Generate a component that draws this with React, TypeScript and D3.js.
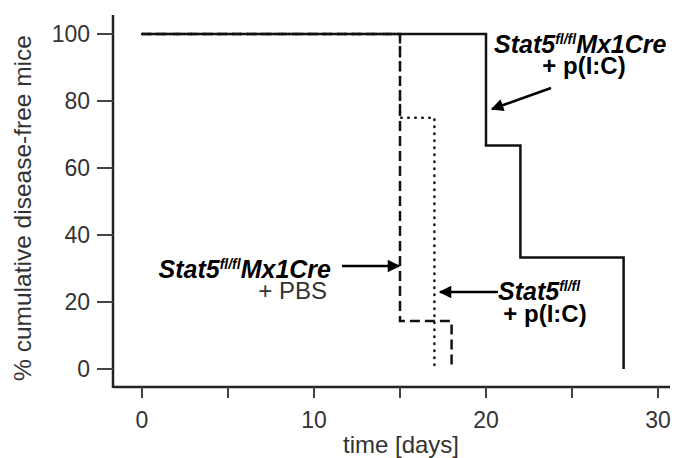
import { useRef, useEffect } from 'react';
import * as d3 from 'd3';

// Kaplan-Meier style survival steps: [day, % disease-free]
const pIcCre = [
  [0, 100],
  [20, 66.7],
  [22, 33.3],
  [28, 0],
];
const pbsCre = [
  [0, 100],
  [15, 14.3],
  [18, 0],
];
const pIcFl = [
  [0, 100],
  [15, 75],
  [17, 0],
];
const xTicks = [0, 5, 10, 15, 20, 25, 30];
const xLabels = [0, 10, 20, 30];
const yTicks = [0, 20, 40, 60, 80, 100];

function App() {
  const svgRef = useRef(null);
  const width = 677;
  const height = 458;

  useEffect(() => {
    const svg = d3.select(svgRef.current);
    svg.selectAll('*').remove();

    const font = 'Liberation Sans, Arial, sans-serif';
    const axisColor = '#222';

    const x = d3.scaleLinear().domain([0, 30]).range([142, 658]);
    const y = d3.scaleLinear().domain([0, 100]).range([369, 34]);

    const axisX0 = 113;
    const axisY0 = 387;

    // axes lines
    svg
      .append('line')
      .attr('x1', axisX0)
      .attr('x2', axisX0)
      .attr('y1', 15)
      .attr('y2', axisY0 + 1)
      .attr('stroke', axisColor)
      .attr('stroke-width', 2.5);
    svg
      .append('line')
      .attr('x1', axisX0)
      .attr('x2', 670)
      .attr('y1', axisY0)
      .attr('y2', axisY0)
      .attr('stroke', axisColor)
      .attr('stroke-width', 2.5);

    // y ticks
    svg
      .append('g')
      .selectAll('line')
      .data(yTicks)
      .join('line')
      .attr('x1', 97)
      .attr('x2', axisX0)
      .attr('y1', (d) => y(d))
      .attr('y2', (d) => y(d))
      .attr('stroke', '#444')
      .attr('stroke-width', 2);
    svg
      .append('g')
      .selectAll('text')
      .data(yTicks)
      .join('text')
      .attr('x', 90)
      .attr('y', (d) => y(d) + 8)
      .attr('text-anchor', 'end')
      .attr('font-family', font)
      .attr('font-size', 23)
      .attr('fill', '#333')
      .text((d) => d);

    // x ticks
    svg
      .append('g')
      .selectAll('line')
      .data(xTicks)
      .join('line')
      .attr('x1', (d) => x(d))
      .attr('x2', (d) => x(d))
      .attr('y1', axisY0)
      .attr('y2', axisY0 + 11)
      .attr('stroke', '#444')
      .attr('stroke-width', 2);
    svg
      .append('g')
      .selectAll('text')
      .data(xLabels)
      .join('text')
      .attr('x', (d) => x(d))
      .attr('y', 428)
      .attr('text-anchor', 'middle')
      .attr('font-family', font)
      .attr('font-size', 23)
      .attr('fill', '#333')
      .text((d) => d);

    // axis titles
    svg
      .append('text')
      .attr('x', 401)
      .attr('y', 453)
      .attr('text-anchor', 'middle')
      .attr('font-family', font)
      .attr('font-size', 24)
      .attr('fill', '#333')
      .text('time [days]');
    svg
      .append('text')
      .attr('transform', 'translate(31,208) rotate(-90)')
      .attr('text-anchor', 'middle')
      .attr('font-family', font)
      .attr('font-size', 24.5)
      .attr('fill', '#333')
      .text('% cumulative disease-free mice');

    // survival curves
    const line = d3
      .line()
      .x((d) => x(d[0]))
      .y((d) => y(d[1]))
      .curve(d3.curveStepAfter);

    svg
      .append('path')
      .attr('d', line(pIcFl))
      .attr('fill', 'none')
      .attr('stroke', '#111')
      .attr('stroke-width', 2.5)
      .attr('stroke-linecap', 'round')
      .attr('stroke-dasharray', '0.5,6.5');
    svg
      .append('path')
      .attr('d', line(pbsCre))
      .attr('fill', 'none')
      .attr('stroke', '#111')
      .attr('stroke-width', 2.5)
      .attr('stroke-dasharray', '10,5');
    svg
      .append('path')
      .attr('d', line(pIcCre))
      .attr('fill', 'none')
      .attr('stroke', '#111')
      .attr('stroke-width', 2.5);

    // arrows
    const defs = svg.append('defs');
    defs
      .append('marker')
      .attr('id', 'arrow')
      .attr('viewBox', '0 0 10 10')
      .attr('refX', 9)
      .attr('refY', 5)
      .attr('markerWidth', 6)
      .attr('markerHeight', 5)
      .attr('markerUnits', 'strokeWidth')
      .attr('orient', 'auto')
      .append('path')
      .attr('d', 'M0,0L10,5L0,10z')
      .attr('fill', '#000');

    const arrows = [
      [551, 88, 492, 109],
      [342, 266, 399, 266],
      [498, 292, 440, 292],
    ];
    svg
      .append('g')
      .selectAll('line')
      .data(arrows)
      .join('line')
      .attr('x1', (d) => d[0])
      .attr('y1', (d) => d[1])
      .attr('x2', (d) => d[2])
      .attr('y2', (d) => d[3])
      .attr('stroke', '#000')
      .attr('stroke-width', 2.5)
      .attr('marker-end', 'url(#arrow)');

    // labels
    const genotype = (g, xx, yy, anchor, withCre) => {
      const t = g
        .append('text')
        .attr('x', xx)
        .attr('y', yy)
        .attr('text-anchor', anchor)
        .attr('font-family', font)
        .attr('font-size', 25)
        .attr('font-weight', 'bold')
        .attr('font-style', 'italic')
        .attr('fill', '#000');
      t.append('tspan').text('Stat5');
      t.append('tspan')
        .attr('font-size', 14)
        .attr('dy', -9)
        .text('fl/fl');
      if (withCre) {
        t.append('tspan').attr('dy', 9).text('Mx1Cre');
      }
    };
    const sub = (g, xx, yy, anchor, txt, bold) => {
      g.append('text')
        .attr('x', xx)
        .attr('y', yy)
        .attr('text-anchor', anchor)
        .attr('font-family', font)
        .attr('font-size', 24)
        .attr('font-weight', bold ? 'bold' : 'normal')
        .attr('fill', bold ? '#000' : '#333')
        .text(txt);
    };

    const labels = svg.append('g');
    genotype(labels, 494, 53, 'start', true);
    sub(labels, 584, 74, 'middle', '+ p(I:C)', true);

    genotype(labels, 331, 278, 'end', true);
    sub(labels, 327, 299, 'end', '+ PBS', false);

    genotype(labels, 498, 300, 'start', false);
    sub(labels, 545, 322, 'middle', '+ p(I:C)', true);
  }, []);

  return (
    <svg
      ref={svgRef}
      width={width}
      height={height}
      style={{ position: 'absolute', left: 0, top: 0, background: '#fff' }}
    ></svg>
  );
}

export default App;
